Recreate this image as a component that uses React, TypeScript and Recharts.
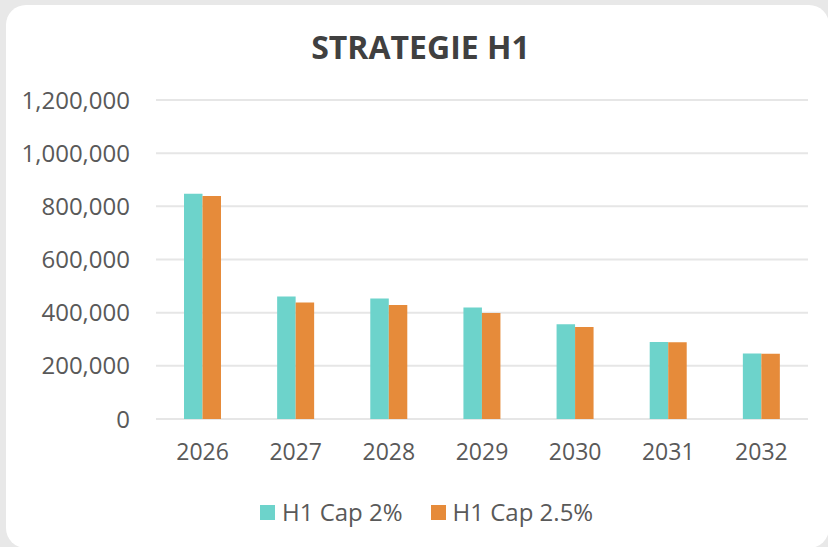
import React from "react";
import { BarChart, Bar, XAxis, YAxis, CartesianGrid } from "recharts";

const years = ["2026", "2027", "2028", "2029", "2030", "2031", "2032"];
const cap2 = [847000, 461000, 453000, 419000, 356000, 290000, 246000];
const cap25 = [839000, 438000, 429000, 399000, 346000, 289000, 245000];
const yTicks = [0, 200000, 400000, 600000, 800000, 1000000, 1200000];

const series = [
  { key: "cap2", name: "H1 Cap 2%", color: "#6dd3cb" },
  { key: "cap25", name: "H1 Cap 2.5%", color: "#e68b3a" },
];

const data = years.map((year, i) => ({ year, cap2: cap2[i], cap25: cap25[i] }));

const FONT = "'Open Sans', sans-serif";
const TEXT = "#595959";

export default function App() {
  return (
    <div
      style={{
        position: "fixed",
        left: 0,
        top: 0,
        width: 828,
        height: 547,
        overflow: "hidden",
        background: "#e8e8e8",
        fontFamily: FONT,
      }}
    >
      {/* white card */}
      <div
        style={{
          position: "absolute",
          left: 6,
          top: 5,
          width: 823,
          height: 543,
          borderRadius: 20,
          background: "#ffffff",
        }}
      />

      <div
        style={{
          position: "absolute",
          left: 0,
          top: 31,
          width: 841,
          textAlign: "center",
          fontSize: 32,
          lineHeight: "32px",
          fontWeight: 700,
          color: "#404040",
        }}
      >
        STRATEGIE H1
      </div>

      <div style={{ position: "absolute", left: 0, top: 0 }}>
        <BarChart
          width={828}
          height={547}
          data={data}
          margin={{ top: 100, right: 20, bottom: 68, left: 0 }}
          barGap={0}
          barSize={18.5}
          style={{ fontFamily: FONT }}
        >
          <CartesianGrid vertical={false} stroke="#e6e6e6" strokeWidth={2} />
          <XAxis
            dataKey="year"
            axisLine={false}
            tickLine={false}
            tickMargin={19}
            height={60}
            tick={{ fill: TEXT, fontSize: 23 }}
          />
          <YAxis
            domain={[0, 1200000]}
            ticks={yTicks}
            axisLine={false}
            tickLine={false}
            tickMargin={20}
            width={156}
            tickFormatter={(v) => Number(v).toLocaleString("en-US")}
            tick={{ fill: TEXT, fontSize: 24 }}
          />
          {series.map((s) => (
            <Bar key={s.key} dataKey={s.key} name={s.name} fill={s.color} isAnimationActive={false} />
          ))}
        </BarChart>
      </div>

      {/* legend */}
      <div
        style={{
          position: "absolute",
          left: 260,
          top: 500,
          display: "flex",
          alignItems: "center",
          fontSize: 24,
          lineHeight: "24px",
          color: TEXT,
        }}
      >
        {series.map((s, i) => (
          <div key={s.key} style={{ display: "flex", alignItems: "center", marginRight: i === 0 ? 28 : 0 }}>
            <span style={{ display: "inline-block", width: 15, height: 15, background: s.color, marginRight: 7 }} />
            <span>{s.name}</span>
          </div>
        ))}
      </div>
    </div>
  );
}
